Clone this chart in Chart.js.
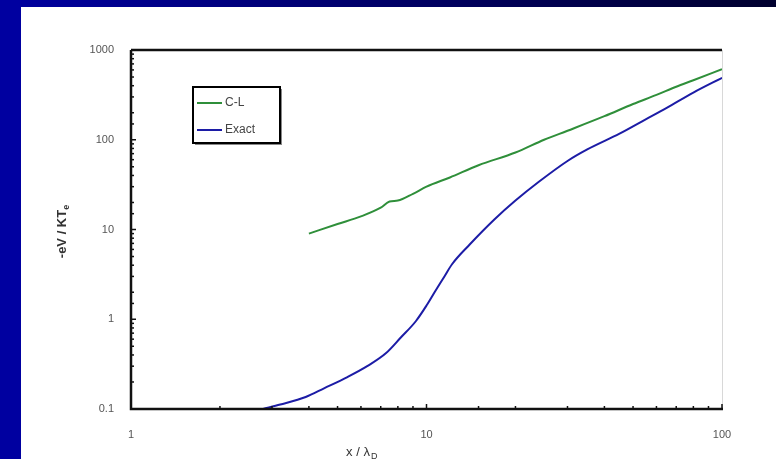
<!DOCTYPE html>
<html lang="en">
<head>
    <meta charset="UTF-8">
    <title>Potencial: C-L x Exato</title>
    <script src="https://cdn.jsdelivr.net/npm/chart.js"></script>
    <style>
        html, body { margin: 0; padding: 0; }
        body {
            width: 776px; height: 459px; overflow: hidden;
            background: linear-gradient(to right, #0000a0, #00002e);
            position: relative;
        }
        .quadro {
            position: absolute; left: 21px; top: 7px;
            width: 755px; height: 452px; background: #ffffff;
        }
        .faixa {
            position: absolute; left: 0; top: 0; width: 21px; height: 459px; background: #0000a0;
        }
    </style>
</head>
<body>
    <div class="faixa"></div>
    <div class="quadro">
        <canvas id="grafico" width="755" height="452"></canvas>
    </div>

    <script>
        // dados
        const xCL = [4, 5, 6, 7, 7.5, 8, 9, 10, 12, 15, 20, 25, 30, 40, 50, 60, 70, 80, 100];
        const yCL = [9, 11.5, 14, 17.5, 20.5, 21, 25, 30, 38, 52, 72, 100, 126, 183, 250, 316, 390, 460, 610];

        const xExato = [2.8, 3.2, 3.9, 4.5, 5.4, 6.3, 7.3, 8.2, 9.2, 10, 10.7, 11.5, 12.2, 14, 17, 20, 24, 30, 35, 45, 55, 65, 80, 100];
        const yExato = [0.1, 0.112, 0.136, 0.17, 0.227, 0.3, 0.42, 0.63, 0.95, 1.42, 2.05, 3.0, 4.1, 6.8, 13, 21, 34, 58, 78, 117, 168, 227, 336, 490];

        const rotulosX = [1, 10, 100];
        const rotulosY = [0.1, 1, 10, 100, 1000];

        const nomes = ["C-L", "Exact"];
        const cores = ["#2f8f3a", "#1c1ca6"];

        const pontos = (xs, ys) => xs.map((v, i) => ({ x: v, y: ys[i] }));

        function ehMaior(v) {
            const l = Math.log10(v);
            return Math.abs(l - Math.round(l)) < 1e-6;
        }

        const fonteTick = { family: "'Liberation Sans', Arial, sans-serif", size: 11 };

        // eixos, marcas internas, legenda com caixa e titulos com subscrito
        const decoracao = {
            id: 'decoracao',
            afterDraw(chart) {
                const { ctx, chartArea: a, scales: { x, y } } = chart;
                ctx.save();

                ctx.strokeStyle = '#d8d8d8';
                ctx.lineWidth = 1;
                ctx.beginPath(); ctx.moveTo(a.right + 0.5, a.top); ctx.lineTo(a.right + 0.5, a.bottom); ctx.stroke();

                ctx.strokeStyle = '#111';
                ctx.lineWidth = 2.5;
                ctx.beginPath(); ctx.moveTo(a.left, a.top); ctx.lineTo(a.right, a.top); ctx.stroke();
                ctx.beginPath(); ctx.moveTo(a.left, a.top); ctx.lineTo(a.left, a.bottom); ctx.lineTo(a.right + 1, a.bottom); ctx.stroke();

                ctx.lineWidth = 1.5;
                y.ticks.forEach(t => {
                    const py = y.getPixelForValue(t.value);
                    const len = ehMaior(t.value) ? 5 : 3;
                    ctx.beginPath(); ctx.moveTo(a.left, py); ctx.lineTo(a.left + len, py); ctx.stroke();
                });
                x.ticks.forEach(t => {
                    const px = x.getPixelForValue(t.value);
                    const len = ehMaior(t.value) ? 5 : 3;
                    ctx.beginPath(); ctx.moveTo(px, a.bottom); ctx.lineTo(px, a.bottom - len); ctx.stroke();
                });

                // legenda
                const lx = a.left + 62, ly = a.top + 37, lw = 87, lh = 56;
                ctx.fillStyle = '#888';
                ctx.fillRect(lx + 2, ly + 2, lw, lh);
                ctx.fillStyle = '#fff';
                ctx.fillRect(lx, ly, lw, lh);
                ctx.strokeStyle = '#000';
                ctx.lineWidth = 2;
                ctx.strokeRect(lx, ly, lw, lh);
                ctx.font = "12px 'Liberation Sans', Arial, sans-serif";
                ctx.textBaseline = 'middle';
                chart.data.datasets.forEach((ds, i) => {
                    const yy = ly + 16 + i * 27;
                    ctx.strokeStyle = ds.borderColor;
                    ctx.lineWidth = 2;
                    ctx.beginPath(); ctx.moveTo(lx + 4, yy); ctx.lineTo(lx + 29, yy); ctx.stroke();
                    ctx.fillStyle = '#444';
                    ctx.fillText(ds.label, lx + 32, yy);
                });

                // titulos
                ctx.fillStyle = '#333';
                ctx.font = "bold 13px 'Liberation Sans', Arial, sans-serif";
                ctx.textBaseline = 'alphabetic';
                ctx.save();
                ctx.translate(45, 224);
                ctx.rotate(-Math.PI / 2);
                const tY = "-eV / KT";
                const wY = ctx.measureText(tY).width;
                ctx.fillText(tY, -wY / 2 - 3, 0);
                ctx.font = "bold 9px 'Liberation Sans', Arial, sans-serif";
                ctx.fillText("e", wY / 2 - 3, 3);
                ctx.restore();

                ctx.font = "13px 'Liberation Sans', Arial, sans-serif";
                const tX = "x / λ";
                const wX = ctx.measureText(tX).width;
                ctx.fillText(tX, 337 - wX / 2, 449);
                ctx.font = "9px 'Liberation Sans', Arial, sans-serif";
                ctx.fillText("D", 337 + wX / 2 + 1, 452);

                ctx.restore();
            }
        };

        new Chart(document.getElementById('grafico'), {
            type: 'scatter',
            data: {
                datasets: [
                    { label: nomes[0], data: pontos(xCL, yCL), borderColor: cores[0], backgroundColor: cores[0],
                      showLine: true, borderWidth: 2, pointRadius: 0, cubicInterpolationMode: 'monotone' },
                    { label: nomes[1], data: pontos(xExato, yExato), borderColor: cores[1], backgroundColor: cores[1],
                      showLine: true, borderWidth: 2, pointRadius: 0, cubicInterpolationMode: 'monotone' }
                ]
            },
            options: {
                responsive: false,
                animation: false,
                layout: { padding: { left: 0, top: 43, right: 54, bottom: 0 } },
                plugins: { legend: { display: false }, tooltip: { enabled: false } },
                scales: {
                    x: {
                        type: 'logarithmic', min: 1, max: 100,
                        grid: { display: false, drawTicks: false },
                        border: { display: false },
                        ticks: {
                            autoSkip: false, maxRotation: 0, padding: 19, color: '#555', font: fonteTick,
                            callback: v => rotulosX.includes(v) ? String(v) : ''
                        },
                        afterFit: s => { s.height = 50; }
                    },
                    y: {
                        type: 'logarithmic', min: 0.1, max: 1000,
                        grid: { display: false, drawTicks: false },
                        border: { display: false },
                        ticks: {
                            autoSkip: false, padding: 17, color: '#555', font: fonteTick,
                            callback: v => rotulosY.some(r => Math.abs(r - v) < 1e-9) ? String(v) : ''
                        },
                        afterFit: s => { s.width = 110; }
                    }
                }
            },
            plugins: [decoracao]
        });
    </script>
</body>
</html>
